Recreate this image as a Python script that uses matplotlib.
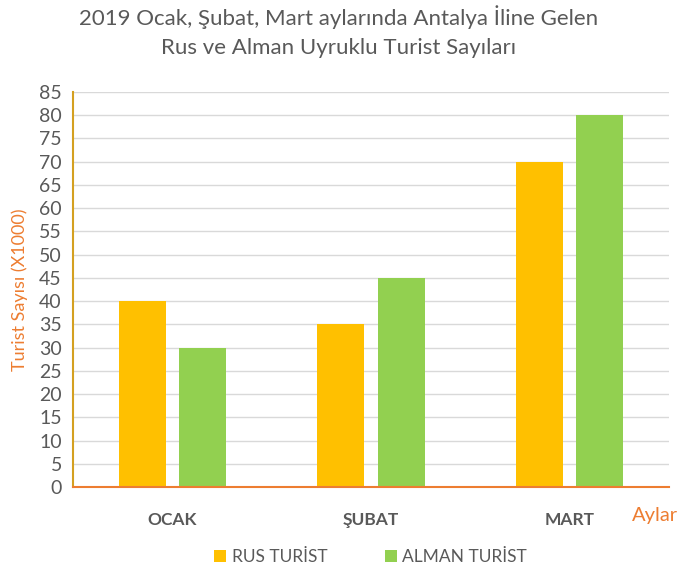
import matplotlib
matplotlib.use('Agg')
import matplotlib.pyplot as plt
import numpy as np

plt.rcParams['font.family'] = ['Lato', 'DejaVu Sans']

# Veriler
months = ['OCAK', 'ŞUBAT', 'MART']
rus = [40, 35, 70]
alman = [30, 45, 80]
yticks = list(range(0, 90, 5))

rus_color = '#FFC000'
alman_color = '#92D050'
orange = '#ED7D31'
gray = '#595959'

fig = plt.figure(figsize=(6.77, 5.75), dpi=100)
ax = fig.add_axes([73/677, 88/575, 596/677, 395/575])

x = np.arange(len(months))
w = 0.237
ax.bar(x - 0.152, rus, w, color=rus_color, label='RUS TURİST', zorder=3)
ax.bar(x + 0.152, alman, w, color=alman_color, label='ALMAN TURİST', zorder=3)

ax.set_xlim(-0.5, 2.5)
ax.set_ylim(0, 85)
ax.set_yticks(yticks)
ax.set_xticks(x)
ax.set_xticklabels(months, fontweight='bold', color=gray, fontsize=12.5)
ax.tick_params(axis='y', colors=gray, labelsize=14, length=0, pad=8)
ax.tick_params(axis='x', length=0, pad=18)
ax.grid(axis='y', color='#D9D9D9', linewidth=1, zorder=0)

for s in ['top', 'right']:
    ax.spines[s].set_visible(False)
ax.spines['left'].set_color('#D4A020')
ax.spines['left'].set_linewidth(1.5)
ax.spines['bottom'].set_color(orange)
ax.spines['bottom'].set_linewidth(1.5)
ax.spines['left'].set_zorder(4)
ax.spines['bottom'].set_zorder(4)

ax.set_ylabel('Turist Sayısı (X1000)', color=orange, fontsize=13, labelpad=8)
fig.text(632/677, 1 - 516/575, 'Aylar', color=orange, fontsize=14.5, va='center', ha='left')

fig.text(0.5, 1 - 17/575, '2019 Ocak, Şubat, Mart aylarında Antalya İline Gelen',
         ha='center', va='center', color=gray, fontsize=16)
fig.text(0.5, 1 - 48/575, 'Rus ve Alman Uyruklu Turist Sayıları',
         ha='center', va='center', color=gray, fontsize=16)

leg = fig.legend(loc='center', bbox_to_anchor=(0.5 + 32/677, 1 - 557/575), ncol=2, frameon=False,
                 fontsize=12.5, handlelength=0.7, handleheight=0.7, columnspacing=3.3,
                 handletextpad=0.3, labelcolor=gray)

fig.savefig('out.png', dpi=100)
